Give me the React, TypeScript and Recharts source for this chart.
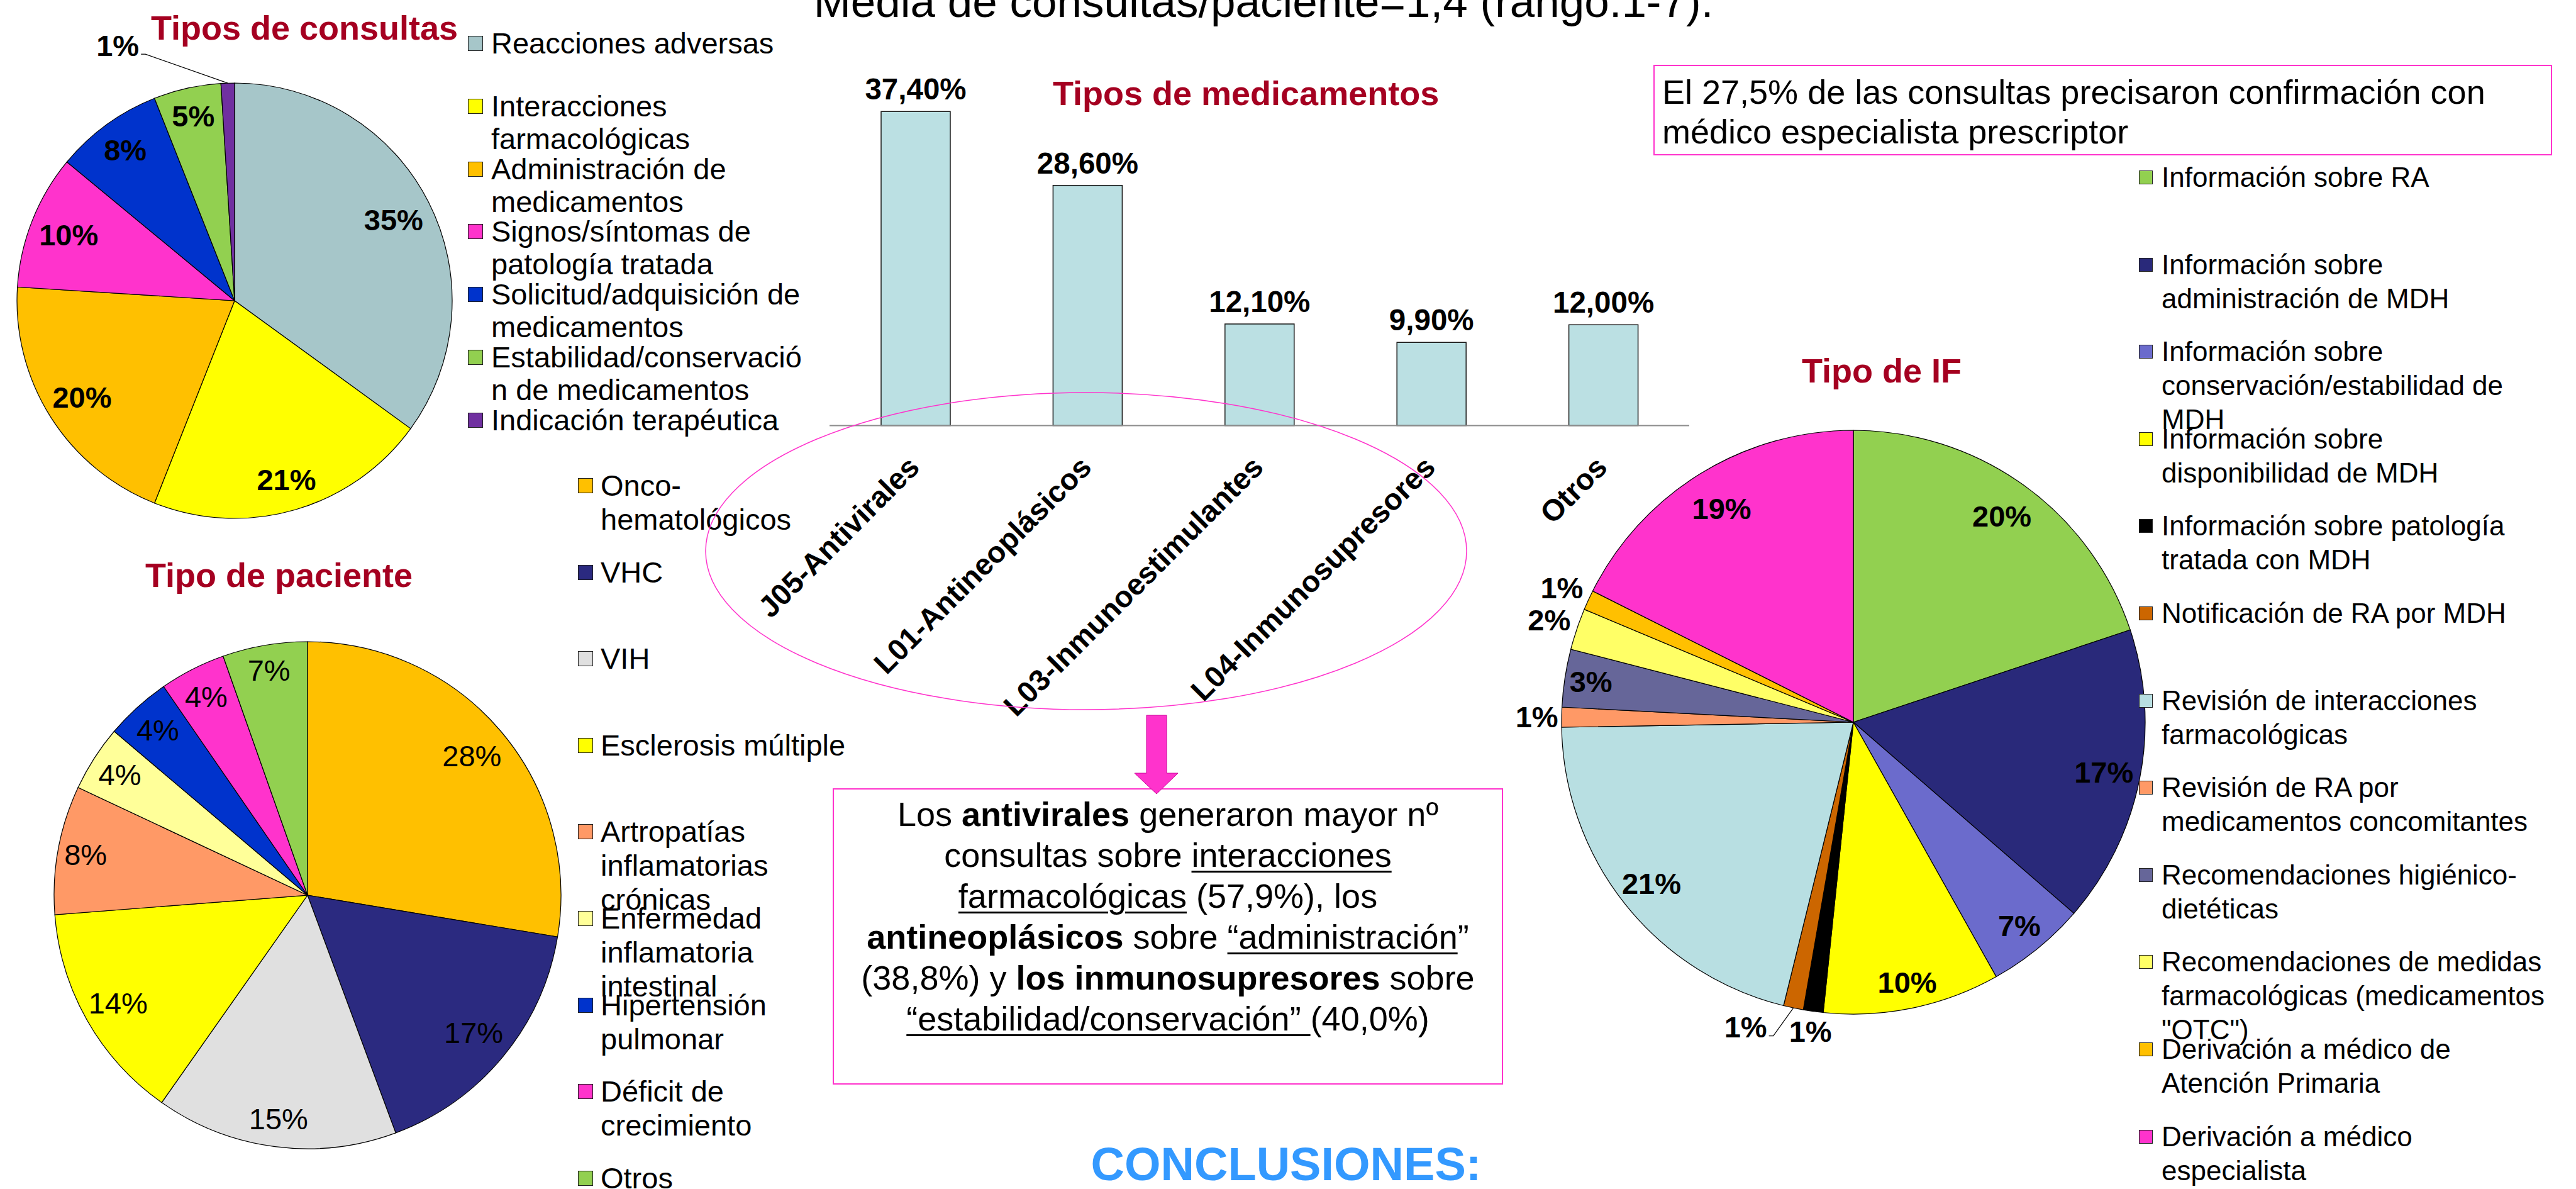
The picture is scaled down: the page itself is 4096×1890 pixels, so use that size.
import React from 'react';
import { PieChart, Pie, Cell, BarChart, Bar, XAxis, YAxis, LabelList } from 'recharts';

const FONT = '"Liberation Sans", Arial, Helvetica, sans-serif';
const TITLE_RED = '#A50021';
const PINK = '#FF33CC';
const W = 4096;
const H = 1890;
const RAD = Math.PI / 180;

// --- Tipos de consultas
const consultaNames = [
  'Reacciones adversas',
  'Interacciones\nfarmacológicas',
  'Administración de\nmedicamentos',
  'Signos/síntomas de\npatología tratada',
  'Solicitud/adquisición de\nmedicamentos',
  'Estabilidad/conservació\nn de medicamentos',
  'Indicación terapéutica',
];
const consultaValues = [35, 21, 20, 10, 8, 5, 1];
const consultaPct = ['35%', '21%', '20%', '10%', '8%', '5%', '1%'];
const consultaColors = ['#A6C6C9', '#FFFF00', '#FFC000', '#FF33CC', '#0033CC', '#92D050', '#7030A0'];

// --- Tipo de paciente
const pacienteNames = [
  'Onco-\nhematológicos',
  'VHC',
  'VIH',
  'Esclerosis múltiple',
  'Artropatías\ninflamatorias\ncrónicas',
  'Enfermedad\ninflamatoria\nintestinal',
  'Hipertensión\npulmonar',
  'Déficit de\ncrecimiento',
  'Otros',
];
const pacienteValues = [27.6, 16.7, 15.4, 14.0, 8.2, 4.2, 4.2, 4.2, 5.4];
const pacientePct = ['28%', '17%', '15%', '14%', '8%', '4%', '4%', '4%', '7%'];
const pacienteColors = ['#FFC000', '#2B2A80', '#E0E0E0', '#FFFF00', '#FF9966', '#FFFF99', '#0033CC', '#FF33CC', '#92D050'];

// --- Tipo de IF
const ifNames = [
  'Información sobre RA',
  'Información sobre\nadministración de MDH',
  'Información sobre\nconservación/estabilidad de\nMDH',
  'Información sobre\ndisponibilidad de MDH',
  'Información sobre patología\ntratada con MDH',
  'Notificación de RA por MDH',
  'Revisión de interacciones\nfarmacológicas',
  'Revisión de RA por\nmedicamentos concomitantes',
  'Recomendaciones higiénico-\ndietéticas',
  'Recomendaciones de medidas\nfarmacológicas (medicamentos\n"OTC")',
  'Derivación a médico de\nAtención Primaria',
  'Derivación a médico\nespecialista',
];
const ifValues = [19.9, 16.5, 5.5, 9.8, 1.1, 1.1, 20.9, 1.1, 3.2, 2.3, 1.1, 17.6];
const ifPct = ['20%', '17%', '7%', '10%', '1%', '1%', '21%', '1%', '3%', '2%', '1%', '19%'];
const ifColors = ['#92D050', '#29297A', '#6B6BCC', '#FFFF00', '#000000', '#CC6600', '#B8DFE2', '#FF9966', '#666699', '#FFFF66', '#FFC000', '#FF33CC'];

// --- Tipos de medicamentos
const medNames = ['J05-Antivirales', 'L01-Antineoplásicos', 'L03-Inmunoestimulantes', 'L04-Inmunosupresores', 'Otros'];
const medValues = [37.4, 28.6, 12.1, 9.9, 12.0];

const toRows = (names: string[], values: number[]) => names.map((name, i) => ({ name, value: values[i] }));

// label placement (fraction of radius, angle shift, leader line)
type LabelCfg = { r: number; shift?: number; leader?: boolean };
const consultaLabelCfg: LabelCfg[] = [
  { r: 0.82 }, { r: 0.855 }, { r: 0.83 }, { r: 0.82 }, { r: 0.855 }, { r: 0.87 }, { r: 1.29, shift: 22.8, leader: true },
];
const pacienteLabelCfg: LabelCfg[] = [
  { r: 0.85 }, { r: 0.85 }, { r: 0.89 }, { r: 0.86 }, { r: 0.89 }, { r: 0.88 }, { r: 0.88 }, { r: 0.88 }, { r: 0.9 },
];
const ifLabelCfg: LabelCfg[] = [
  { r: 0.87 }, { r: 0.875 }, { r: 0.9 }, { r: 0.91 }, { r: 1.07 }, { r: 1.108, shift: -7.6, leader: true },
  { r: 0.885 }, { r: 1.085 }, { r: 0.91 }, { r: 1.1 }, { r: 1.1 }, { r: 0.86 },
];

const makePieLabel = (texts: string[], cfg: LabelCfg[], bold: boolean) => (p: any) => {
  const { cx, cy, midAngle, outerRadius, index } = p;
  const c = cfg[index];
  const a = (midAngle + (c.shift || 0)) * RAD;
  const x = cx + outerRadius * c.r * Math.cos(a);
  const y = cy - outerRadius * c.r * Math.sin(a);
  let leader = null;
  if (c.leader) {
    const ex = cx + outerRadius * Math.cos(midAngle * RAD);
    const ey = cy - outerRadius * Math.sin(midAngle * RAD);
    leader = (
      <polyline
        points={`${ex},${ey} ${x + 44},${y + 14} ${x + 37},${y + 14}`}
        fill="none"
        stroke="#000"
        strokeWidth={1.2}
      />
    );
  }
  return (
    <g key={`lbl-${index}`}>
      {leader}
      <text
        x={x}
        y={y}
        textAnchor="middle"
        dominantBaseline="central"
        fontFamily={FONT}
        fontSize={47}
        fontWeight={bold ? 'bold' : 'normal'}
        fill="#000"
      >
        {texts[index]}
      </text>
    </g>
  );
};

const PieBlock = ({ rows, colors, cx, cy, r, label }: any) => (
  <div style={{ position: 'absolute', left: 0, top: 0 }}>
    <PieChart width={W} height={H}>
      <Pie
        data={rows}
        dataKey="value"
        cx={cx}
        cy={cy}
        outerRadius={r}
        startAngle={90}
        endAngle={-270}
        stroke="#000"
        strokeWidth={1.2}
        label={label}
        labelLine={false}
        isAnimationActive={false}
      >
        {rows.map((_: any, i: number) => (
          <Cell key={i} fill={colors[i]} />
        ))}
      </Pie>
    </PieChart>
  </div>
);

const LegendBlock = ({ names, colors, left, textLeft, top, step, lineH, fontSize, box }: any) => (
  <>
    {names.map((t: string, i: number) => {
      const y = top + i * step;
      return (
        <div key={i} style={{ position: 'absolute', left, top: y - lineH / 2 }}>
          <div
            style={{
              position: 'absolute',
              left: 0,
              top: (lineH - box) / 2,
              width: box,
              height: box,
              boxSizing: 'border-box',
              background: colors[i],
              border: '1.5px solid #222',
            }}
          />
          <div
            style={{
              position: 'absolute',
              left: textLeft - left,
              top: 0,
              fontSize,
              lineHeight: `${lineH}px`,
              whiteSpace: 'pre',
              color: '#000',
            }}
          >
            {t}
          </div>
        </div>
      );
    })}
  </>
);

// text placed by its baseline
const Txt = ({ x, baseline, size, children, bold, color, center }: any) => (
  <div
    style={{
      position: 'absolute',
      left: center ? x - 1500 : x,
      width: center ? 3000 : undefined,
      textAlign: center ? 'center' : 'left',
      top: baseline - 0.8465 * size,
      fontSize: size,
      lineHeight: `${size}px`,
      fontWeight: bold ? 'bold' : 'normal',
      color: color || '#000',
      whiteSpace: 'pre',
    }}
  >
    {children}
  </div>
);

const fmtPct = (v: number) => `${v.toFixed(2).replace('.', ',')}%`;

const MedTick = (props: any) => {
  const { x, y, payload } = props;
  return (
    <g transform={`translate(${x + 9},${y + 69})`}>
      <text transform="rotate(-45)" textAnchor="end" fontSize={47.5} fontWeight="bold" fontFamily={FONT} fill="#000">
        {payload.value}
      </text>
    </g>
  );
};

const BarValueLabel = (p: any) => {
  const { x, y, width, value } = p;
  return (
    <text
      x={Number(x) + Number(width) / 2}
      y={Number(y) - 19}
      textAnchor="middle"
      fontSize={47.5}
      fontWeight="bold"
      fontFamily={FONT}
      fill="#000"
    >
      {fmtPct(Number(value))}
    </text>
  );
};

const u = { textDecoration: 'underline', textDecorationThickness: 3, textUnderlineOffset: 6 } as const;

export default function App() {
  const medRows = toRows(medNames, medValues);
  return (
    <div
      style={{
        position: 'absolute',
        left: 0,
        top: 0,
        width: W,
        height: H,
        overflow: 'hidden',
        background: '#fff',
        fontFamily: FONT,
      }}
    >
      <Txt x={2009} baseline={27} size={71} center>
        Media de consultas/paciente=1,4 (rango:1-7).
      </Txt>

      {/* bar chart */}
      <div style={{ position: 'absolute', left: 0, top: 0 }}>
        <BarChart width={W} height={H} data={medRows} margin={{ top: 142.5, right: W - 2686, bottom: H - 676.5 - 300, left: 1319 }}>
          <XAxis
            dataKey="name"
            height={300}
            interval={0}
            tickLine={false}
            tickSize={0}
            tickMargin={0}
            axisLine={{ stroke: '#8c8c8c', strokeWidth: 2 }}
            tick={<MedTick />}
          />
          <YAxis hide domain={[0, 40]} />
          <Bar dataKey="value" fill="#BBE0E3" stroke="#1a1a1a" strokeWidth={1.5} barSize={110} isAnimationActive={false}>
            <LabelList dataKey="value" content={<BarValueLabel />} />
          </Bar>
        </BarChart>
      </div>

      <PieBlock
        rows={toRows(consultaNames, consultaValues)}
        colors={consultaColors}
        cx={368}
        cy={473}
        r={346}
        label={makePieLabel(consultaPct, consultaLabelCfg, true)}
      />
      <PieBlock
        rows={toRows(pacienteNames, pacienteValues)}
        colors={pacienteColors}
        cx={484}
        cy={1418}
        r={403}
        label={makePieLabel(pacientePct, pacienteLabelCfg, false)}
      />
      <PieBlock
        rows={toRows(ifNames, ifValues)}
        colors={ifColors}
        cx={2942}
        cy={1143}
        r={464}
        label={makePieLabel(ifPct, ifLabelCfg, true)}
      />

      {/* titles */}
      <Txt x={240} baseline={63} size={54} bold color={TITLE_RED}>Tipos de consultas</Txt>
      <Txt x={231} baseline={933} size={54} bold color={TITLE_RED}>Tipo de paciente</Txt>
      <Txt x={1674} baseline={167} size={54} bold color={TITLE_RED}>Tipos de medicamentos</Txt>
      <Txt x={2865} baseline={608} size={54} bold color={TITLE_RED}>Tipo de IF</Txt>

      {/* legends */}
      <LegendBlock names={consultaNames} colors={consultaColors} left={744} textLeft={781} top={69} step={99.8} lineH={52} fontSize={47} box={24} />
      <LegendBlock names={pacienteNames} colors={pacienteColors} left={919} textLeft={955} top={772} step={137.6} lineH={54} fontSize={47} box={24} />
      <LegendBlock names={ifNames} colors={ifColors} left={3401} textLeft={3437} top={282} step={138.6} lineH={54} fontSize={44} box={22} />

      {/* top-right note */}
      <div
        style={{
          position: 'absolute',
          left: 2629,
          top: 103,
          width: 1429,
          height: 144,
          boxSizing: 'border-box',
          border: `2px solid ${PINK}`,
          padding: '10px 0 0 12px',
          fontSize: 54,
          lineHeight: '63px',
          whiteSpace: 'pre',
        }}
      >
        {'El 27,5% de las consultas precisaron confirmación con\nmédico especialista prescriptor'}
      </div>

      {/* findings box */}
      <div
        style={{
          position: 'absolute',
          left: 1324,
          top: 1253,
          width: 1066,
          height: 471,
          boxSizing: 'border-box',
          border: `2px solid ${PINK}`,
          paddingTop: 7,
          fontSize: 54,
          lineHeight: '65px',
          textAlign: 'center',
          whiteSpace: 'nowrap',
        }}
      >
        <div>Los <b>antivirales</b> generaron mayor nº</div>
        <div>consultas sobre <span style={u}>interacciones</span></div>
        <div><span style={u}>farmacológicas</span> (57,9%), los</div>
        <div><b>antineoplásicos</b> sobre <span style={u}>“administración</span>”</div>
        <div>(38,8%) y <b>los inmunosupresores</b> sobre</div>
        <div><span style={u}>“estabilidad/conservación” </span>(40,0%)</div>
      </div>

      <Txt x={2045} baseline={1877} size={74} bold color="#3399FF" center>CONCLUSIONES:</Txt>

      {/* ellipse and arrow */}
      <svg width={W} height={H} style={{ position: 'absolute', left: 0, top: 0, pointerEvents: 'none' }}>
        <ellipse cx={1727} cy={876} rx={605} ry={252} fill="none" stroke={PINK} strokeWidth={1.5} />
        <polygon
          points="1823,1137 1855,1137 1855,1229 1873,1229 1839,1262 1804,1229 1823,1229"
          fill={PINK}
          stroke="#CC0099"
          strokeWidth={1}
        />
      </svg>
    </div>
  );
}
